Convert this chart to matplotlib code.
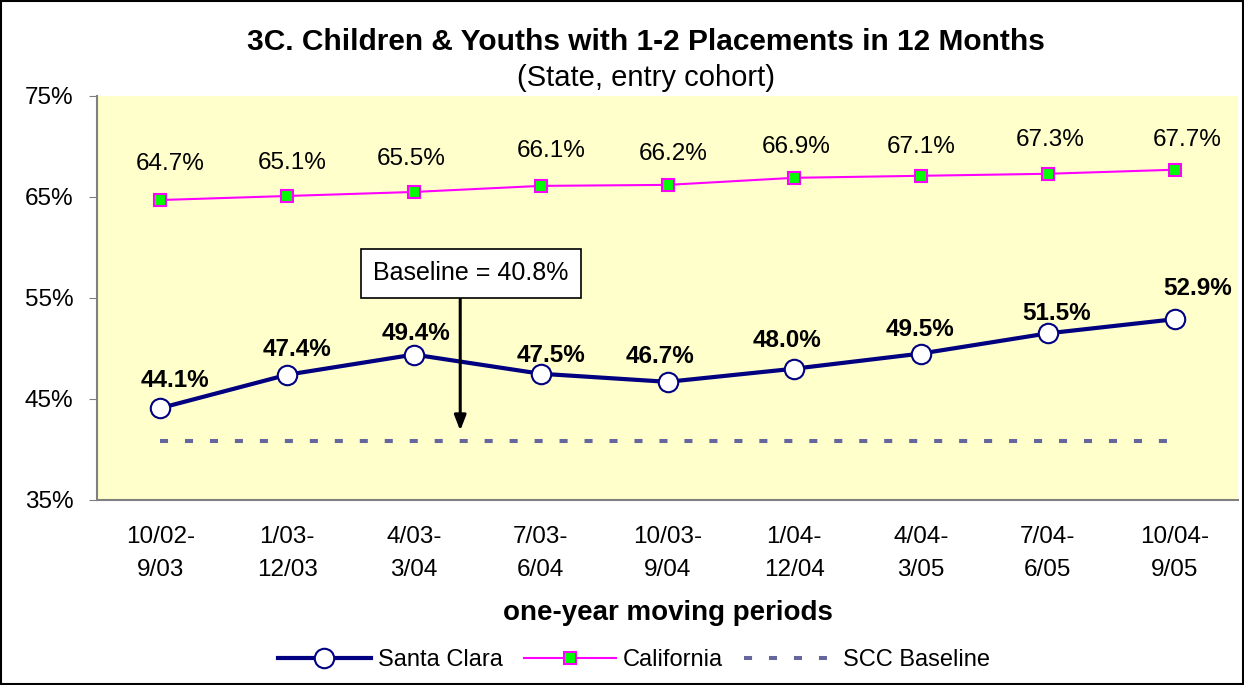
import numpy as np
import matplotlib.pyplot as plt

plt.rcParams['font.family'] = ['Liberation Sans', 'DejaVu Sans']

periods = ["10/02-\n9/03", "1/03-\n12/03", "4/03-\n3/04", "7/03-\n6/04", "10/03-\n9/04",
           "1/04-\n12/04", "4/04-\n3/05", "7/04-\n6/05", "10/04-\n9/05"]
santa_clara = [44.1, 47.4, 49.4, 47.5, 46.7, 48.0, 49.5, 51.5, 52.9]
california = [64.7, 65.1, 65.5, 66.1, 66.2, 66.9, 67.1, 67.3, 67.7]
baseline = 40.8

# label offsets in pixels (dx, dy)
sc_off = [(15, 28), (10, 25), (2, 21), (10, 18), (-7, 25), (-7, 28), (-1, 24), (9, 20), (23, 31)]
ca_off = [(10, 36), (5, 33), (-3, 33), (10, 35), (6, 31), (2, 31), (0, 29), (2, 34), (13, 30)]

x = np.arange(len(periods))

fig = plt.figure(figsize=(12.44, 6.85), dpi=100)
ax = fig.add_axes([97/1244, 1 - 500/685, (1238 - 97)/1244, (500 - 96)/685])
ax.set_facecolor('#FFFFCC')

ax.plot(x, [baseline] * len(x), color='#66669E', lw=2.9, dashes=(2, 4.2),
        label='SCC Baseline', zorder=2)
ax.plot(x, california, color='#FF00FF', lw=1.5, marker='s', markersize=8,
        markerfacecolor='#00FF00', markeredgecolor='#FF00FF', markeredgewidth=1.5,
        label='California', zorder=3)
ax.plot(x, santa_clara, color='#000080', lw=3, marker='o', markersize=14,
        markerfacecolor='white', markeredgecolor='#000080', markeredgewidth=1.5,
        label='Santa Clara', zorder=4)

for i in range(len(x)):
    ax.annotate(f"{santa_clara[i]:.1f}%", (x[i], santa_clara[i]), xytext=sc_off[i],
                textcoords='offset pixels', ha='center', va='center',
                fontsize=17.5, fontweight='bold')
    ax.annotate(f"{california[i]:.1f}%", (x[i], california[i]), xytext=ca_off[i],
                textcoords='offset pixels', ha='center', va='center', fontsize=17.5)

# baseline callout
ax.text(2.45, 57.45, "Baseline = 40.8%", ha='center', va='center', fontsize=18,
        bbox=dict(boxstyle='square,pad=0.5', facecolor='white', edgecolor='black', lw=1.2),
        zorder=6)
ax.annotate("", xy=(2.365, 41.6), xytext=(2.365, 55.2),
            arrowprops=dict(arrowstyle='-|>,head_width=0.35,head_length=0.9',
                            color='black', lw=2.2), zorder=5)

ax.set_xlim(-0.5, len(x) - 0.5)
ax.set_ylim(35, 75)
ax.set_yticks([35, 45, 55, 65, 75])
ax.set_yticklabels([f"{v}%" for v in [35, 45, 55, 65, 75]], fontsize=17.5)
ax.set_xticks(x)
ax.set_xticklabels(periods, fontsize=17.5, linespacing=1.6)
ax.tick_params(axis='x', length=0, pad=19)
ax.tick_params(axis='y', length=6, color='#808080', pad=11)
for s in ['top', 'right']:
    ax.spines[s].set_visible(False)
for s in ['left', 'bottom']:
    ax.spines[s].set_color('#808080')
    ax.spines[s].set_linewidth(1.5)

ax.set_xlabel("one-year moving periods", fontsize=20, fontweight='bold', labelpad=14)

fig.text(0.519, 1 - 42/685, "3C. Children & Youths with 1-2 Placements in 12 Months",
         ha='center', va='center', fontsize=21.5, fontweight='bold')
fig.text(0.519, 1 - 78/685, "(State, entry cohort)", ha='center', va='center', fontsize=21)

h, l = ax.get_legend_handles_labels()
fig.legend(h[::-1], l[::-1], loc='center', bbox_to_anchor=(0.51, 1 - 660/685), ncol=3,
           frameon=False, fontsize=17, handlelength=3.9, columnspacing=0.9, handletextpad=0.3)

fig.patches.append(plt.Rectangle((0.001, 0.001), 0.998, 0.997, transform=fig.transFigure,
                                 fill=False, edgecolor='black', lw=1.5))

fig.savefig("out.png", dpi=100)
